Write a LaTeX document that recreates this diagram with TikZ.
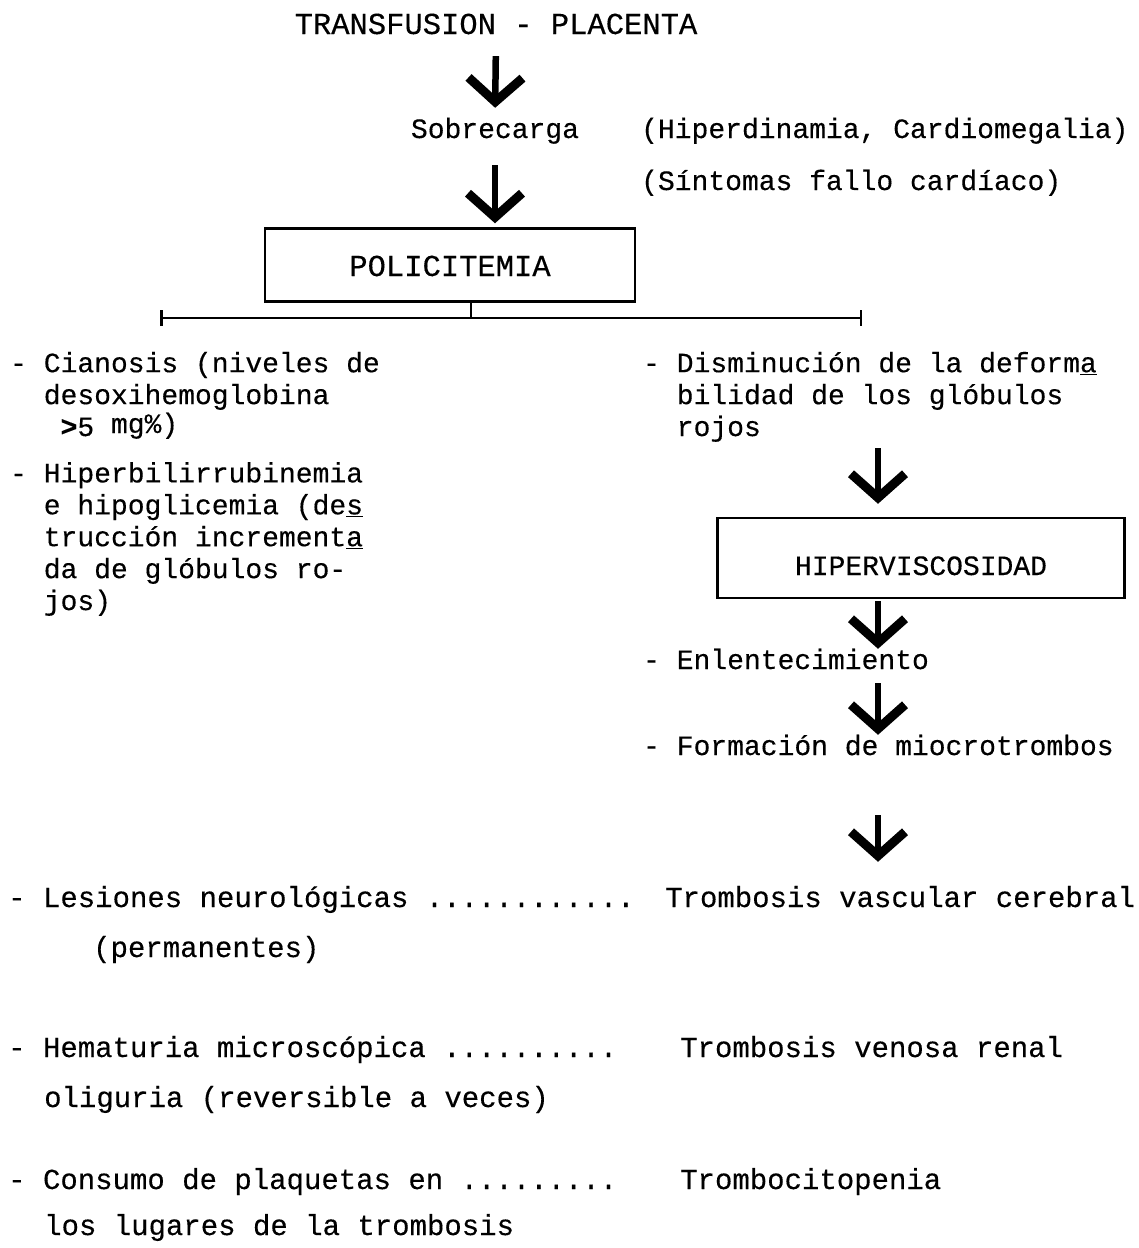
\documentclass[tikz,border=0pt]{standalone}
\usepackage{fontspec}
\setmonofont[FakeBold=0.3]{Liberation Mono}
\usepackage{tikz}
\usetikzlibrary{arrows,arrows.meta,positioning,calc}
\tikzset{txt/.style={inner sep=0pt, text height=20pt, text depth=6pt,
    font=\ttfamily\fontsize{28}{31.7}\selectfont},
  big/.style={font=\ttfamily\fontsize{29}{31.7}\selectfont},
  lst/.style={inner sep=0pt, align=left, anchor=base west,
    font=\ttfamily\fontsize{28}{31.9}\selectfont}}
\tikzstyle{bx}=[txt, draw, rectangle, line width=2.5pt, align=center]
\tikzstyle{flecha}=[line width=6.5pt, -{Straight Barb[length=24pt, width=54pt, line width=9pt]}]

\begin{document}
\begin{tikzpicture}[x=1pt, y=-1pt, node distance=32pt]
\useasboundingbox (0,0) rectangle (1139,1248);
% cabecera
\node[txt, anchor=base, font=\ttfamily\fontsize{30.5}{32}\selectfont] (titulo) at (496,34) {TRANSFUSION - PLACENTA};
\node[txt, anchor=base] (sobre) at (495,138) {Sobrecarga};
\node[txt, anchor=base west] (hiperd) at (641,138) {(Hiperdinamia, Cardiomegalia)};
\node[txt, anchor=base west] (sint) at (641,190) {(Síntomas fallo cardíaco)};
\node[bx, minimum width=370pt, minimum height=73pt, font=\ttfamily\fontsize{30.5}{32}\selectfont] (poli) at (450,265) {\raisebox{-4pt}{POLICITEMIA}};
\path[flecha] (titulo.south) edge [shorten <=16pt, shorten >=10pt] (sobre.north)
      (sobre.south) edge [shorten <=21pt, shorten >=4pt] (sobre.south |- poli.north);
% reparto
\coordinate (izq) at (160,318);
\coordinate (der) at (862,318);
\coordinate (rama) at (471,318);
\draw[line width=2.5pt, {Bar[width=16pt]}-{Bar[width=16pt]}] (izq) -- (der);
\draw[line width=1.5pt] (poli.south -| rama) -- (rama);
% columna izquierda (base = ultima linea)
\node[lst] (cian) at (10,436) {- Cianosis (niveles de\\
  \phantom{--}desoxihemoglobina\\
  \phantom{--}\ {\bfseries >}5\ \raisebox{3pt}{mg\%)}};
\node[lst] (hiperb) at (10,610) {- Hiperbilirrubinemia\\
  \phantom{--}e hipoglicemia (de\underline{s}\\
  \phantom{--}trucción incrementa\llap{\underline{\phantom{a}}}\\
  \phantom{--}da de glóbulos ro-\\
  \phantom{--}jos)};
% columna derecha
\node[lst] (dism) at (643,436) {- Disminución de la deform\underline{a}\\
  \phantom{--}bilidad de los glóbulos\\
  \phantom{--}rojos};
\node[bx, minimum width=407pt, minimum height=80pt] (hiperv) at (921,558) {\raisebox{-10pt}{HIPERVISCOSIDAD}};
\node[txt, anchor=base west] (enlen) at (643,669) {- Enlentecimiento};
\node[txt, anchor=base west] (forma) at (643,755) {- Formación de miocrotrombos};
\coordinate (eje) at (878,0);
% consecuencias
\node[txt, big, anchor=base west] (lesion) at (8,907) {- Lesiones neurológicas ............};
\node[txt, big, anchor=base west] (cereb) at (665,907) {Trombosis vascular cerebral};
\node[txt, big, anchor=base west] (perm) at (93,957) {(permanentes)};
\node[txt, big, anchor=base west] (hemat) at (8,1057) {- Hematuria microscópica ..........};
\node[txt, big, anchor=base west] (renal) at (680,1057) {Trombosis venosa renal};
\node[txt, big, anchor=base west] (olig) at (44,1107) {oliguria (reversible a veces)};
\node[txt, big, anchor=base west] (consumo) at (8,1189) {- Consumo de plaquetas en .........};
\node[txt, big, anchor=base west] (tromboc) at (680,1189) {Trombocitopenia};
\node[txt, big, anchor=base west] (lugar) at (44,1235) {los lugares de la trombosis};
\path[flecha] (dism.south -| eje) edge [shorten <=6pt, shorten >=13pt] (hiperv.north -| eje)
      (hiperv.south -| eje) edge [shorten <=2pt, shorten >=0pt] (enlen.north -| eje)
      (enlen.south -| eje) edge [shorten <=8pt] (forma.north -| eje)
      (forma.south -| eje) edge [shorten <=54pt, shorten >=25pt] (cereb.north -| eje);
\end{tikzpicture}
\end{document}
